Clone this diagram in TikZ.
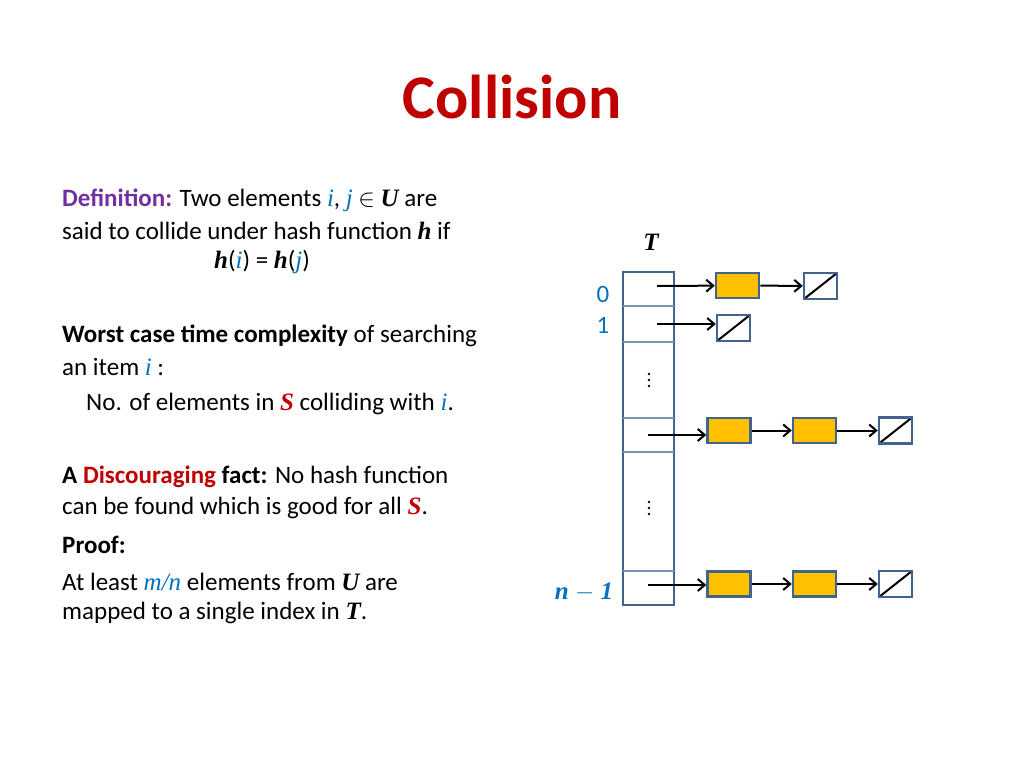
\documentclass[tikz,border=0pt]{standalone}
\usepackage{fontspec}
\setmainfont{Carlito}
\newfontfamily\mathfont{Liberation Serif}
\usetikzlibrary{arrows.meta,positioning}
\definecolor{titlered}{RGB}{192,0,0}
\definecolor{defpurple}{RGB}{112,48,160}
\definecolor{idxblue}{RGB}{0,112,192}
\definecolor{cellblue}{RGB}{65,100,140}
\definecolor{itemgold}{RGB}{255,192,0}
\tikzset{>={Stealth[length=9pt,width=8pt,open,fill=white]}}
\newcommand{\mv}[1]{{\mathfont\bfseries\itshape #1}}
\newcommand{\mi}[1]{{\mathfont\itshape\color{idxblue}#1}}
\tikzset{
  txt/.style={anchor=west,font=\fontsize{25}{29}\selectfont,inner sep=0},
  item/.style={draw=cellblue,line width=2.5pt,fill=itemgold,minimum width=43pt,minimum height=25pt,inner sep=0},
  nullbox/.style={draw=cellblue,line width=2.5pt,fill=white,minimum width=33pt,minimum height=26pt,inner sep=0,
    path picture={\draw[black,line width=2pt] (path picture bounding box.south west) -- (path picture bounding box.north east);}},
  link/.style={-{Straight Barb[length=7pt,width=12pt,line width=2pt]},line width=2pt}
}
\begin{document}
\begin{tikzpicture}[x=1pt,y=-1pt]
\useasboundingbox (0,0) rectangle (1024,768);
\node[font=\fontsize{62}{68}\selectfont\bfseries,text=titlered] (title) at (512,97) {Collision};

% text column
\node[txt] (d1) at (62,200) {\textbf{\color{defpurple}Definition:} Two elements \mi{i}, \mi{j} $\in$ \mv{U} are};
\node[txt] (d2) at (62,231) {said to collide under hash function \mv{h} if};
\node[txt] (d3) at (214,262) {\mv{h}(\mi{i}) = \mv{h}(\mi{j})};
\node[txt] (w1) at (62,336) {\textbf{Worst case time complexity} of searching};
\node[txt] (w2) at (62,367) {an item \mi{i} :};
\node[txt] (w3) at (86,404) {No. of elements in {\mathfont\bfseries\itshape\color{titlered}S} colliding with \mi{i}.};
\node[txt] (f1) at (62,477) {\textbf{A {\color{titlered}Discouraging} fact:} No hash function};
\node[txt] (f2) at (62,508) {can be found which is good for all {\mathfont\bfseries\itshape\color{titlered}S}.};
\node[txt] (p1) at (62,545) {\textbf{Proof:}};
\node[txt] (p2) at (62,582) {At least {\mathfont\itshape\color{idxblue}m/n} elements from \mv{U} are};
\node[txt] (p3) at (62,613) {mapped to a single index in \mv{T}.};

% table T
\draw[cellblue,line width=2.5pt] (623,272) rectangle (674,605);
\foreach \y in {306,342,418,452,571}
  \draw[cellblue!70,line width=1.5pt] (623,\y) -- (674,\y);
\node[font=\fontsize{25}{29}\selectfont] (tname) at (651,242) {\mv{T}};
\node[font=\fontsize{25}{29}\selectfont,text=idxblue] (l0) at (603,294) {0};
\node[font=\fontsize{25}{29}\selectfont,text=idxblue] (l1) at (603,325) {1};
\node[font=\fontsize{25}{29}\selectfont,text=idxblue] (ln) at (584,592) {\mathfont\bfseries\itshape n {\upshape $-$} 1};
\foreach \y [count=\k] in {380,508}
  \node (dots\k) at (649,\y) {\tikz[x=1pt,y=1pt]{\foreach \d in {-6,0,6} \fill (0,\d) circle (1.3pt);}};

% slot 0
\coordinate (s0) at (657,286);
\node[item] (a0) at (737.5,285.5) {};
\node[nullbox] (z0) at (820.5,286) {};
\draw[link] (s0) -- (a0);
\draw[link] (a0) -- (z0);
% slot 1
\coordinate (s1) at (657,324);
\node[nullbox] (z1) at (733.5,328) {};
\draw[link] (s1) -- (z1.west |- s1);
% middle slot
\coordinate (s2) at (648,435);
\node[item] (a2) at (729,430.5) {};
\node[item] (b2) at (814.5,430.5) {};
\node[nullbox] (z2) at (895.5,430.5) {};
\draw[link] (s2) -- (a2.west |- s2);
\draw[link] (a2) -- (b2);
\draw[link] (b2) -- (z2);
% slot n-1
\coordinate (s3) at (648,585);
\node[item] (a3) at (729,584) {};
\node[item] (b3) at (814.5,584) {};
\node[nullbox] (z3) at (895.5,584) {};
\draw[link] (s3) -- (a3.west |- s3);
\draw[link] (a3) -- (b3);
\draw[link] (b3) -- (z3);
\end{tikzpicture}
\end{document}
